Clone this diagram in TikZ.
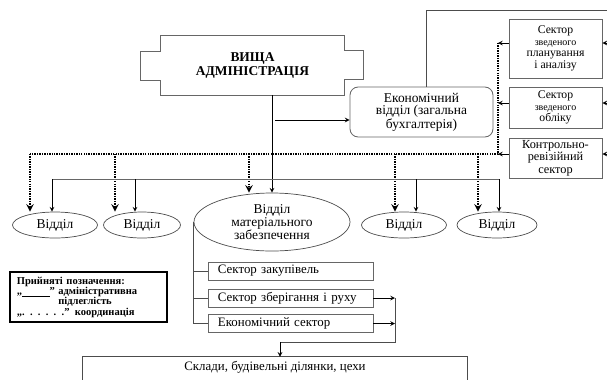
\documentclass[tikz,border=0pt]{standalone}
\usepackage{fontspec}
\setmainfont{Liberation Serif}
\usetikzlibrary{shapes.geometric, arrows}
\tikzstyle{topbox} = [rectangle, minimum width=5.49cm, minimum height=1.77cm, text centered, align=center, font=\bfseries\fontsize{11.5}{12}\selectfont]
\tikzstyle{outline} = [draw=black!60, line width=0.7pt]
\tikzstyle{dept} = [rectangle, rounded corners=7pt, minimum width=4.29cm, minimum height=1.5cm, text centered, align=center, draw=black!60, line width=0.7pt, font=\fontsize{11.5}{10.5}\selectfont]
\tikzstyle{sector} = [rectangle, minimum width=2.79cm, text centered, align=center, draw=black!60, line width=0.7pt, inner sep=1pt, font=\fontsize{10}{10}\selectfont]
\tikzstyle{unit} = [ellipse, minimum width=2.55cm, minimum height=0.78cm, draw=black!70, line width=0.6pt, inner sep=1pt, font=\fontsize{11.5}{11}\selectfont]
\tikzstyle{subsector} = [rectangle, minimum height=0.54cm, text width=4.35cm, inner xsep=0.3cm, inner ysep=0pt, align=left, draw=black!60, line width=0.7pt, font=\fontsize{11}{10}\selectfont]
\tikzstyle{keybox} = [rectangle, minimum width=4.71cm, minimum height=1.5cm, text width=4.3cm, inner xsep=0.2cm, align=left, draw=black, line width=1.6pt, font=\bfseries\fontsize{9}{8.8}\selectfont]
\tikzstyle{link} = [draw=black!70, line width=0.7pt]
\tikzstyle{arrow} = [thick,->,>=stealth]
\tikzstyle{coordline} = [line width=1.8pt, dash pattern=on 1.2pt off 0.9pt]
\tikzstyle{coordarrow} = [coordline, ->, >=stealth]

\begin{document}
\begin{tikzpicture}[x=0.03cm, y=0.03cm, yscale=-1]
\useasboundingbox (0, 0) rectangle (607, 379);

\node at (252.5, 65.5) (admin) [topbox] {ВИЩА\\АДМІНІСТРАЦІЯ};
\draw [outline] (admin.north west) -- (admin.north east) -- ++(0, 15) -- ++(19, 0) -- ++(0, 29) -- ++(-19, 0) -- (admin.south east) -- (admin.south west) -- ++(0, -15) -- ++(-20, 0) -- ++(0, -29) -- ++(20, 0) -- cycle;

\node at (421.5, 112) (econ) [dept] {Економічний\\відділ (загальна\\бухгалтерія)};

\node at (555.5, 48.5) (plan) [sector, minimum height=1.77cm] {Сектор\\{\fontsize{8.5}{10}\selectfont зведеного}\\планування\\і аналізу};
\node at (555.5, 107.5) (acct) [sector, minimum height=1.23cm] {Сектор\\{\fontsize{8.5}{10}\selectfont зведеного}\\обліку};
\node at (555.5, 158) (audit) [sector, minimum height=1.2cm, font=\fontsize{10.5}{10.5}\selectfont] {Контрольно-\\ревізійний\\сектор};

\node at (55, 225) (unitA) [unit] {Відділ};
\node at (142, 225) (unitB) [unit, minimum width=2.31cm] {Відділ};
\node at (272, 222) (supply) [unit, minimum width=4.68cm, minimum height=1.74cm, align=center] {Відділ\\матеріального\\забезпечення};
\node at (404, 225) (unitC) [unit] {Відділ};
\node at (497, 225) (unitD) [unit, minimum width=2.4cm] {Відділ};

\node at (290.5, 271) (purchase) [subsector] {Сектор закупівель};
\node at (290.5, 298) (storage) [subsector] {Сектор зберігання і руху};
\node at (290.5, 323.5) (econsec) [subsector] {Економічний сектор};

\node at (88.5, 297) (legend) [keybox] {Прийняті позначення:\\„\underline{\hspace{2.6em}}” адміністративна\\\phantom{„\underline{\hspace{2.6em}}” }підлеглість\\„. . . . . .” координація};

\node at (275, 367) (works) [minimum width=11.52cm, minimum height=0.6cm, font=\fontsize{11}{10}\selectfont] {Склади, будівельні ділянки, цехи};
\draw [link] (works.north west) ++(0, 40) -- (works.north west) -- (works.north east) -- ++(0, 40);

\draw [arrow] (admin.south -| supply.north) -- (supply.north);
\coordinate (fork) at (275, 120);
\draw [arrow] (fork) -- (fork -| econ.west);

\coordinate (corner) at (607, 10);
\draw [link] ([xshift=0.135cm]econ.north) |- (corner);

\coordinate (edgeA) at (607, 43);
\coordinate (edgeB) at (607, 103);
\coordinate (edgeC) at (607, 154);
\draw [arrow] (edgeA) -- (edgeA -| plan.east);
\draw [arrow] (edgeB) -- (edgeB -| acct.east);
\draw [arrow] (edgeC) -- (edgeC -| audit.east);

\coordinate (busA) at (498, 43);
\coordinate (busB) at (498, 103);
\coordinate (busC) at (498, 154);
\coordinate (busEnd) at (30, 154);
\draw [arrow] (busA -| plan.west) -- (busA);
\draw [arrow] (busB -| acct.west) -- (busB);
\draw [arrow] (busC -| audit.west) -- (busC);
\draw [coordline] (busA) -- (busC) -- (busEnd);

\draw [coordarrow] (busEnd) -- (busEnd |- unitA.north);
\draw [coordarrow] (115, 154) -- (115, 154 |- unitB.north);
\draw [coordarrow] (249, 154) -- (249, 154 |- supply.north);
\draw [coordarrow] (395, 154) -- (395, 154 |- unitC.north);
\draw [coordarrow] (478, 154) -- (478, 154 |- unitD.north);

\coordinate (subA) at (52, 179);
\coordinate (subB) at (135, 179);
\coordinate (subC) at (416, 179);
\coordinate (subD) at (499, 179);
\draw [draw=black!60, line width=0.5pt] (subA) -- (subD);
\draw [arrow] (subA) -- (subA |- unitA.north);
\draw [arrow] (subB) -- (subB |- unitB.north);
\draw [arrow] (subC) -- (subC |- unitC.north);
\draw [arrow] (subD) -- (subD |- unitD.north);

\draw [link] (supply.west) -- (supply.west |- econsec.west) -- (econsec.west);
\draw [link] (supply.west |- purchase.west) -- (purchase.west);
\draw [link] (supply.west |- storage.west) -- (storage.west);

\coordinate (mergeTop) at (395, 298);
\coordinate (mergeBot) at (395, 342);
\coordinate (mergeOut) at (280, 342);
\draw [arrow] (storage.east) -- (storage.east -| mergeTop);
\draw [arrow] (econsec.east) -- (econsec.east -| mergeTop);
\draw [link] (mergeTop) -- (mergeBot) -- (mergeOut);
\draw [arrow] (mergeOut) -- (mergeOut |- works.north);

\end{tikzpicture}
\end{document}
